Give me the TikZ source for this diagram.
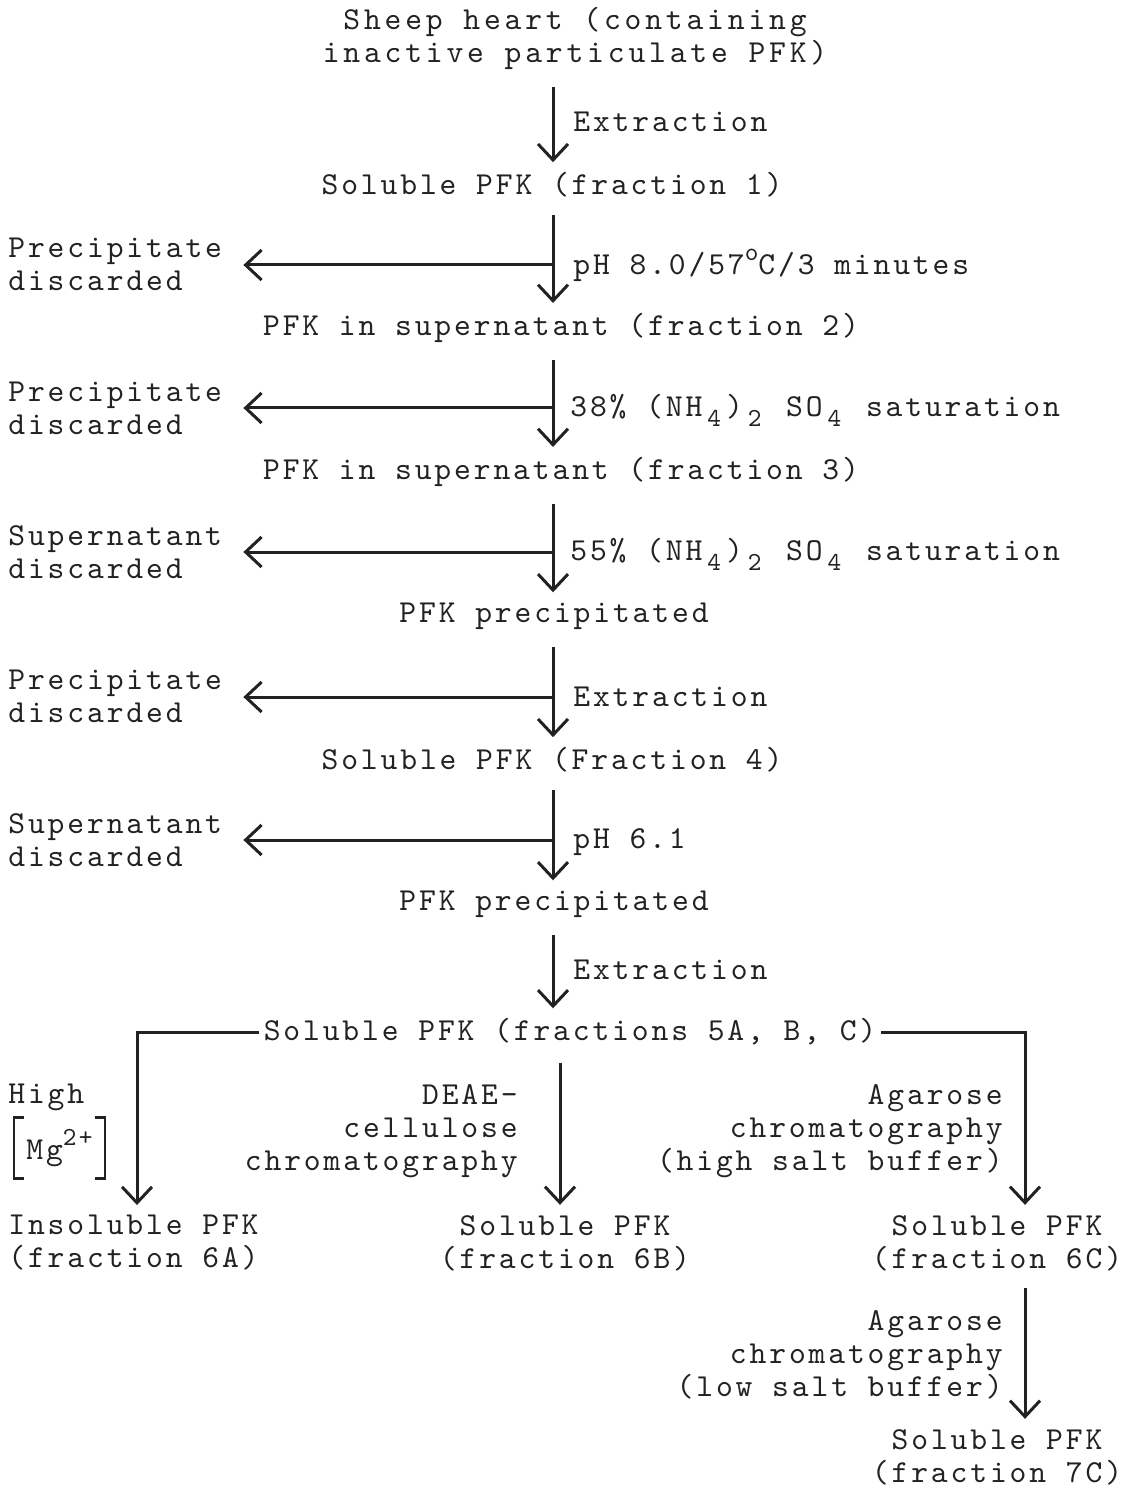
\documentclass[tikz,border=0pt]{standalone}
\usepackage{fontspec}
\usepackage{tikz}
\usetikzlibrary{arrows.meta}
\newfontfamily\typewr{lmmono10-regular.otf}[LetterSpace=9]
\definecolor{ink}{HTML}{222222}
\newcommand\lowr[1]{\hspace{2.5pt}\raisebox{-5pt}{\fontsize{13}{13}\selectfont#1}\hspace{2.5pt}}
\newcommand\highr[1]{\raisebox{7pt}{\fontsize{13}{13}\selectfont#1}}

\begin{document}
\begin{tikzpicture}[x=0.5pt, y=-0.5pt, >={Straight Barb[length=8pt,width=15pt]},
  every node/.style={font=\typewr\fontsize{16}{16.5}\selectfont, text=ink, inner sep=0pt},
  flow/.style={->, draw=ink, line width=1.5pt, shorten <=8.5pt, shorten >=5pt},
  branch/.style={->, draw=ink, line width=1.5pt, shorten >=10.5pt},
  bracket/.style={draw=ink, line width=1.2pt},
  side/.style={anchor=west, align=left},
  cond/.style={anchor=east, align=right}]
\useasboundingbox (0,0) rectangle (1146,1497);
\node[align=center, font=\typewr\addfontfeature{LetterSpace=12}\fontsize{16}{16.5}\selectfont] (src) at (575,38) {Sheep heart (containing\\inactive particulate PFK)};
\node (f1) at (552,185) {Soluble PFK (fraction 1)};
\node (f2) at (561,328) {PFK in supernatant (fraction 2)};
\node (f3) at (561,472) {PFK in supernatant (fraction 3)};
\node (p1) at (554,616) {PFK precipitated};
\node (f4) at (552,760) {Soluble PFK (Fraction 4)};
\node (p2) at (554,904) {PFK precipitated};
\node (f5) at (570,1032) {Soluble PFK (fractions 5A, B, C)};
\node[side] (f6a) at (8,1243) {Insoluble PFK\\(fraction 6A)};
\node[align=center] (f6b) at (565,1243) {Soluble PFK\\(fraction 6B)};
\node[align=center] (f6c) at (997,1243) {Soluble PFK\\(fraction 6C)};
\node[align=center] (f7c) at (997,1457) {Soluble PFK\\(fraction 7C)};
\node[side] (d1) at (8,264) {Precipitate\\discarded};
\node[side] (d2) at (8,408) {Precipitate\\discarded};
\node[side] (d3) at (8,552) {Supernatant\\discarded};
\node[side] (d4) at (8,696) {Precipitate\\discarded};
\node[side] (d5) at (8,840) {Supernatant\\discarded};
\node[anchor=west] (l1) at (573,122) {Extraction};
\node[anchor=west] (l2) at (573,265) {pH 8.0/57\highr{o}C/3 minutes};
\node[anchor=west] (l3) at (570,410) {38\% (NH\lowr{4})\lowr{2} SO\lowr{4} saturation};
\node[anchor=west] (l4) at (570,554) {55\% (NH\lowr{4})\lowr{2} SO\lowr{4} saturation};
\node[anchor=west] (l5) at (573,697) {Extraction};
\node[anchor=west] (l6) at (573,842) {pH 6.1};
\node[anchor=west] (l7) at (573,970) {Extraction};
\node[anchor=west] (hi) at (8,1097) {High};
\node[anchor=west, inner xsep=6pt, minimum height=30pt] (mg) at (14,1148) {Mg\highr{2+}};
\node[cond] (deae) at (518,1131) {DEAE-\\cellulose\\chromatography};
\node[cond] (aga1) at (1003,1131) {Agarose\\chromatography\\(high salt buffer)};
\node[cond] (aga2) at (1003,1355) {Agarose\\chromatography\\(low salt buffer)};
\draw[bracket] ([xshift=5pt]mg.north west) -- (mg.north west) -- (mg.south west) -- ([xshift=5pt]mg.south west);
\draw[bracket] ([xshift=-5pt]mg.north east) -- (mg.north east) -- (mg.south east) -- ([xshift=-5pt]mg.south east);
\coordinate (col) at (553,0);
\coordinate (mcol) at (560,0);
\coordinate (lturn) at (137,1032);
\coordinate (rturn) at (1025,1032);
\coordinate (b1) at (553,265);
\coordinate (b2) at (553,408);
\coordinate (b3) at (553,552);
\coordinate (b4) at (553,697);
\coordinate (b5) at (553,840);
\draw[flow] (src.south -| col) -- (f1.north -| col);
\draw[flow] (f1.south -| col) -- (f2.north -| col);
\draw[flow] (f2.south -| col) -- (f3.north -| col);
\draw[flow] (f3.south -| col) -- (p1.north -| col);
\draw[flow] (p1.south -| col) -- (f4.north -| col);
\draw[flow] (f4.south -| col) -- (p2.north -| col);
\draw[flow] (p2.south -| col) -- (f5.north -| col);
\draw[branch] (b1) -- (b1 -| d1.east);
\draw[branch] (b2) -- (b2 -| d2.east);
\draw[branch] (b3) -- (b3 -| d3.east);
\draw[branch] (b4) -- (b4 -| d4.east);
\draw[branch] (b5) -- (b5 -| d5.east);
\draw[flow, shorten <=2pt] (f5.west) -- (lturn) -- (lturn |- f6a.north);
\draw[flow, shorten <=2pt] (f5.east) -- (rturn) -- (rturn |- f6c.north);
\draw[flow] (f5.south -| mcol) -- (f6b.north -| mcol);
\draw[flow] (f6c.south -| rturn) -- (f7c.north -| rturn);
\end{tikzpicture}
\end{document}
